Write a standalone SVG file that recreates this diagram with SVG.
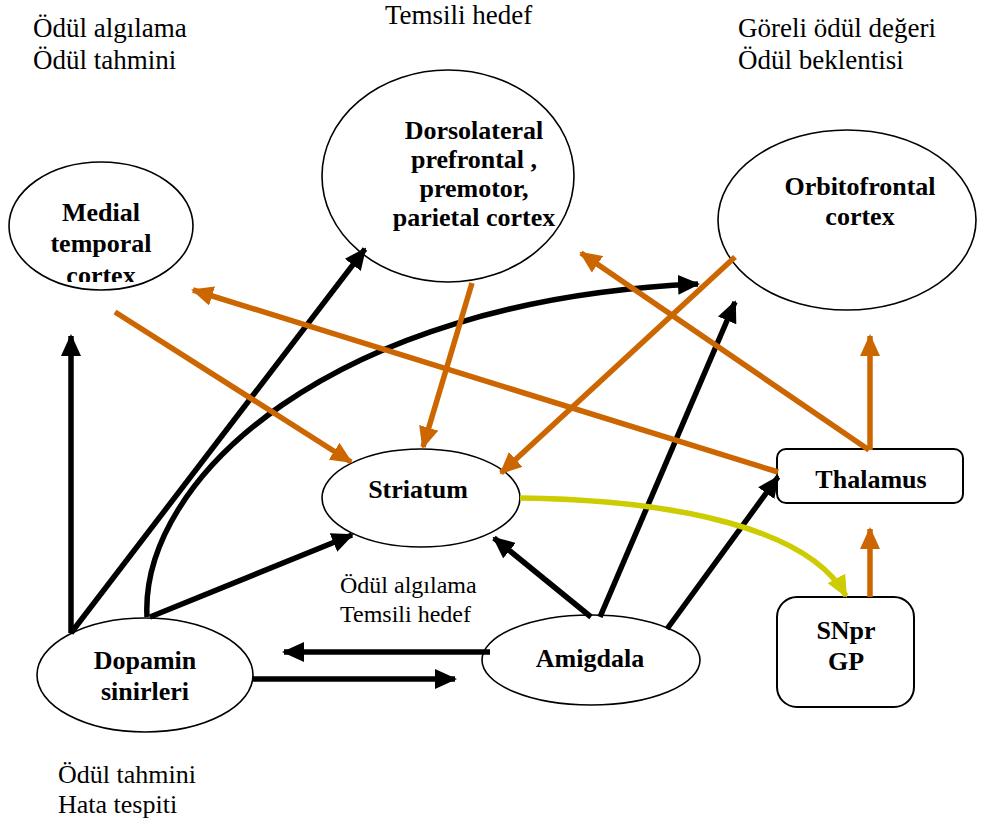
<svg xmlns="http://www.w3.org/2000/svg" width="1004" height="827" viewBox="0 0 1004 827">
<style>
.node{fill:#fff;stroke:#000;stroke-width:1.6}
.box{fill:#fff;stroke:#000;stroke-width:2}
.lbl{font-family:"Liberation Serif","Times New Roman",serif;font-size:26px;font-weight:bold;text-anchor:middle;fill:#000}
.txt{font-family:"Liberation Serif","Times New Roman",serif;font-size:24px;fill:#000}
.top{font-size:27px}
.bot{font-size:26px}
.k{stroke:#000;stroke-width:5.5;fill:none;marker-end:url(#ak)}
.o{stroke:#CC6600;stroke-width:5.5;fill:none;marker-end:url(#ao)}
.y{stroke:#CCCC00;stroke-width:5.5;fill:none;marker-end:url(#ay)}
</style>
<defs>
<marker id="ak" markerUnits="userSpaceOnUse" viewBox="0 0 22 20" markerWidth="22" markerHeight="20" refX="20" refY="10" orient="auto"><path d="M0,0 L22,10 L0,20 z" fill="#000"/></marker>
<marker id="ao" markerUnits="userSpaceOnUse" viewBox="0 0 22 20" markerWidth="22" markerHeight="20" refX="20" refY="10" orient="auto"><path d="M0,0 L22,10 L0,20 z" fill="#CC6600"/></marker>
<marker id="ay" markerUnits="userSpaceOnUse" viewBox="0 0 22 20" markerWidth="22" markerHeight="20" refX="20" refY="10" orient="auto"><path d="M0,0 L22,10 L0,20 z" fill="#CCCC00"/></marker>
<clipPath id="clipMed"><rect x="0" y="150" width="200" height="132"/></clipPath>
</defs>
<rect width="1004" height="827" fill="#fff"/>

<g id="free-text" class="txt">
<text class="top" x="33" y="37">Ödül algılama</text>
<text class="top" x="33" y="69">Ödül tahmini</text>
<text class="top" x="385" y="24">Temsili hedef</text>
<text class="top" x="738" y="37">Göreli ödül değeri</text>
<text class="top" x="738" y="69">Ödül beklentisi</text>
<text x="340" y="593">Ödül algılama</text>
<text x="340" y="622">Temsili hedef</text>
<text class="bot" x="58" y="783">Ödül tahmini</text>
<text class="bot" x="58" y="813">Hata tespiti</text>
</g>

<g id="node-medial">
<ellipse class="node" cx="101" cy="226" rx="92" ry="64"/>
<g clip-path="url(#clipMed)">
<text class="lbl" x="101" y="221">Medial</text>
<text class="lbl" x="101" y="252">temporal</text>
<text class="lbl" x="101" y="284">cortex</text>
</g>
</g>

<g id="node-dlpfc">
<ellipse class="node" cx="448" cy="176" rx="126" ry="106"/>
<text class="lbl" x="474" y="139">Dorsolateral</text>
<text class="lbl" x="474" y="168">prefrontal ,</text>
<text class="lbl" x="474" y="197">premotor,</text>
<text class="lbl" x="474" y="226">parietal cortex</text>
</g>

<g id="node-ofc">
<ellipse class="node" cx="847" cy="220" rx="129" ry="90"/>
<text class="lbl" x="860" y="195">Orbitofrontal</text>
<text class="lbl" x="860" y="225">cortex</text>
</g>

<g id="node-striatum">
<ellipse class="node" cx="421" cy="498" rx="99" ry="49"/>
<text class="lbl" x="418" y="498">Striatum</text>
</g>

<g id="node-thalamus">
<rect class="box" x="777" y="449" width="186" height="54" rx="9"/>
<text class="lbl" x="871" y="488">Thalamus</text>
</g>

<g id="node-snpr">
<rect class="box" x="777" y="597" width="137" height="110" rx="20"/>
<text class="lbl" x="846" y="639">SNpr</text>
<text class="lbl" x="846" y="670">GP</text>
</g>

<g id="node-dopamin">
<ellipse class="node" cx="145" cy="675" rx="108" ry="57"/>
<text class="lbl" x="145" y="669">Dopamin</text>
<text class="lbl" x="145" y="700">sinirleri</text>
</g>

<g id="node-amigdala">
<ellipse class="node" cx="591" cy="660" rx="109" ry="45"/>
<text class="lbl" x="590" y="667">Amigdala</text>
</g>

<g id="connectors">
<line class="k" x1="71" y1="633" x2="71" y2="336"/>
<line class="k" x1="71" y1="633" x2="365" y2="249"/>
<path class="k" d="M147,617 C140,480 330,300 698,284"/>
<line class="k" x1="150" y1="617" x2="352" y2="535"/>
<line class="k" x1="490" y1="652" x2="284" y2="652"/>
<line class="k" x1="253" y1="679" x2="455" y2="679"/>
<line class="k" x1="591" y1="617" x2="494" y2="538"/>
<line class="k" x1="600" y1="617" x2="735" y2="302"/>
<line class="k" x1="667" y1="629" x2="778" y2="477"/>
<line class="o" x1="115" y1="312" x2="351" y2="462"/>
<line class="o" x1="472" y1="283" x2="423" y2="447"/>
<line class="o" x1="735" y1="257" x2="501" y2="473"/>
<line class="o" x1="778" y1="472" x2="193" y2="290"/>
<line class="o" x1="869" y1="450" x2="581" y2="253"/>
<line class="o" x1="870" y1="450" x2="870" y2="336"/>
<line class="o" x1="870" y1="597" x2="870" y2="529"/>
<path class="y" d="M520,498 C680,500 810,530 846,596"/>
</g>
</svg>
